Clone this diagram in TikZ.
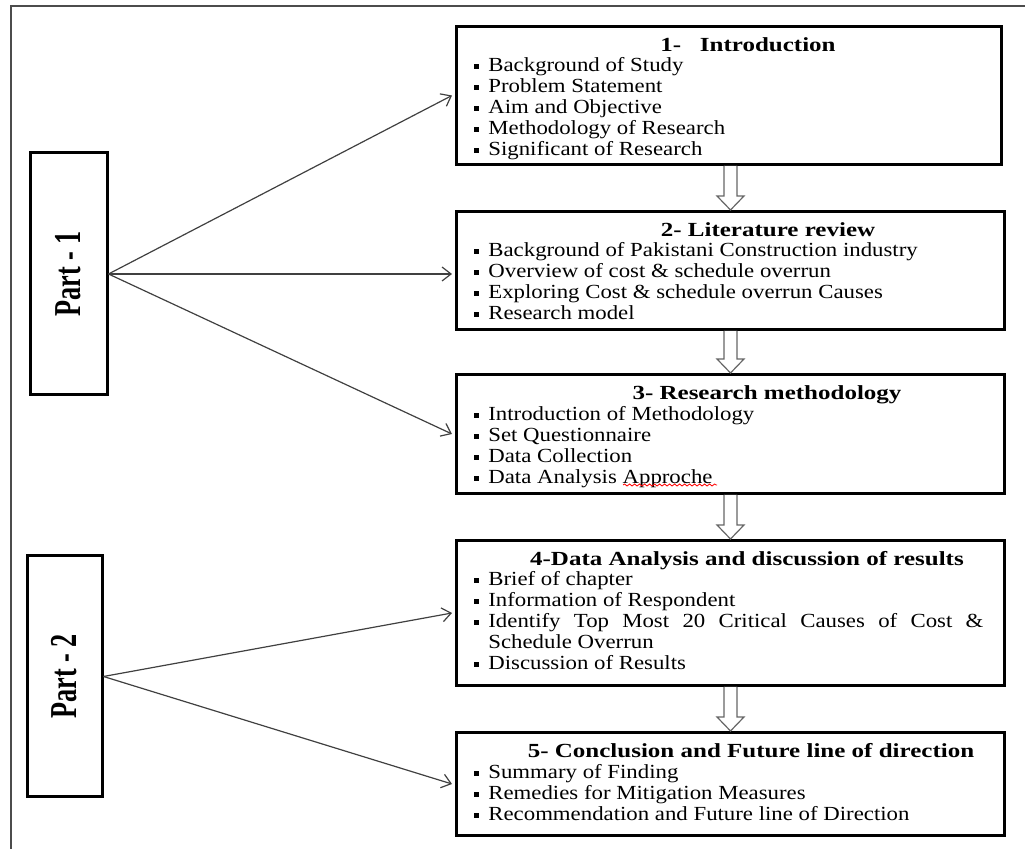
\documentclass[tikz,border=0pt]{standalone}
\usepackage{fontspec}
\setmainfont{Liberation Serif}[FakeStretch=1.14]
\newfontfamily\headfont{Liberation Serif}[FakeStretch=1.25]
\newfontfamily\partfont{Liberation Serif}[FakeStretch=0.69]
\usetikzlibrary{arrows.meta,calc,decorations.pathmorphing}
\newcommand\itm{\par\hangindent=7pt\hangafter=1\noindent\rule[1.7pt]{2.4pt}{2.4pt}\hspace{4.6pt}}
\tikzset{
  chapbox/.style={draw, line width=1.5pt, anchor=north west, inner sep=0pt},
  partbox/.style={draw, line width=1.5pt, inner sep=0pt, font=\partfont\bfseries\fontsize{19}{19}\selectfont},
  head/.style={anchor=base, inner sep=0pt, font=\headfont\bfseries\fontsize{10}{10.5}\selectfont},
  items/.style={anchor=base west, inner sep=0pt, text width=254.5pt, align=justify, font=\fontsize{10}{10.5}\selectfont},
  link/.style={draw=black!75, line width=0.6pt, -{Straight Barb[length=4.5pt,width=7pt]}},
  hollow/.style={draw=black!60, line width=0.6pt, fill=white},
}
\begin{document}
\begin{tikzpicture}[x=0.5pt,y=-0.5pt]
  \useasboundingbox (0,0) rectangle (1025,849);
  % frame
  \draw[black!70, line width=1pt] (1025,6) -- (11,6) -- (11,849);

  % parts
  \node[partbox, minimum width=38.5pt, minimum height=121pt] (p1) at (68.5,274) {\rotatebox{90}{Part - 1}};
  \node[partbox, minimum width=37.5pt, minimum height=120.5pt] (p2) at (64.5,676.5) {\rotatebox{90}{Part - 2}};

  % chapters
  \node[chapbox, minimum width=272.5pt, minimum height=69pt] (b1) at (455,25) {};
  \node[chapbox, minimum width=274pt, minimum height=59pt] (b2) at (455,210) {};
  \node[chapbox, minimum width=274pt, minimum height=59.5pt] (b3) at (455,373) {};
  \node[chapbox, minimum width=274pt, minimum height=72.5pt] (b4) at (455,539) {};
  \node[chapbox, minimum width=274pt, minimum height=51.5pt] (b5) at (455,731) {};

  \node[head] (t1) at (748,52) {1-\ \ \ Introduction};
  \node[head] (t2) at (768,237) {2- Literature review};
  \node[head] (t3) at (767,400) {3- Research methodology};
  \node[head] (t4) at (747,566) {4-Data Analysis and discussion of results};
  \node[head] (t5) at (751,758) {5- Conclusion and Future line of direction};

  \node[items] (l1) at (474,51) {\itm Background of Study \itm Problem Statement
    \itm Aim and Objective \itm Methodology of Research \itm Significant of Research};
  \node[items] (l2) at (474,236) {\itm Background of Pakistani Construction industry
    \itm Overview of cost \& schedule overrun \itm Exploring Cost \& schedule overrun Causes
    \itm Research model};
  \node[items] (l3) at (474,400) {\itm Introduction of Methodology \itm Set Questionnaire
    \itm Data Collection \itm Data Analysis Approche};
  \node[items] (l4) at (474,565) {\itm Brief of chapter \itm Information of Respondent
    \itm Identify Top Most 20 Critical Causes of Cost \&\linebreak Schedule Overrun
    \itm Discussion of Results};
  \node[items] (l5) at (474,758) {\itm Summary of Finding \itm Remedies for Mitigation Measures
    \itm Recommendation and Future line of Direction};
  \draw[red, line width=0.4pt, decorate, decoration={snake, amplitude=0.5pt, segment length=2.5pt}]
    (623,485) -- (717,485);

  % links
  \draw[link] (p1.east) -- ([xshift=-1.5pt]b1.west);
  \draw[link] (p1.east) -- ([xshift=-1.5pt]b2.west |- p1.east);
  \draw[link] (p1.east) -- ([xshift=-1.5pt]b3.west);
  \draw[link] (p2.east) -- ([xshift=-1.5pt]b4.west);
  \draw[link] (p2.east) -- ([xshift=-1.5pt]b5.west);

  % hollow arrows
  \foreach \a/\b in {b1/b2,b2/b3,b3/b4,b4/b5}
    \draw[hollow] ($(\b.north |- \a.south)+(-6.5,0)$) -- ($(\b.north)+(-6.5,-14)$)
      -- ($(\b.north)+(-13.5,-14)$) -- (\b.north) -- ($(\b.north)+(13.5,-14)$)
      -- ($(\b.north)+(6.5,-14)$) -- ($(\b.north |- \a.south)+(6.5,0)$);
\end{tikzpicture}
\end{document}
